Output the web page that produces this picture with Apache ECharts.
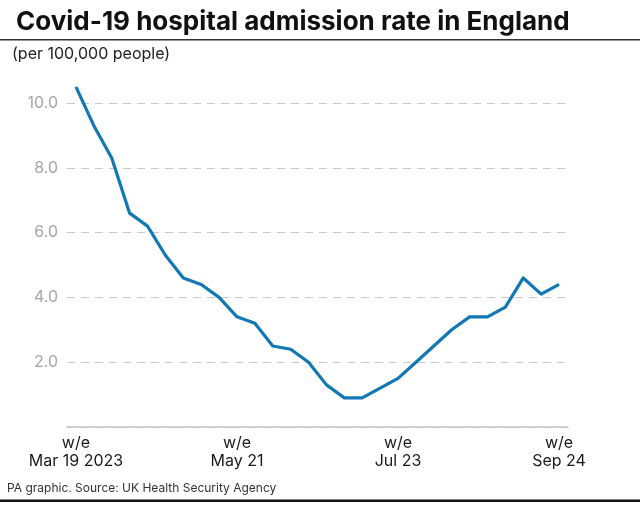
<!DOCTYPE html>
<html>
<head>
<meta charset="utf-8">
<script src="https://cdn.jsdelivr.net/npm/echarts@6/dist/echarts.min.js"></script>
<style>html,body{margin:0;padding:0;background:#fff;}#chart{width:640px;height:506px;}</style>
</head>
<body>
<div id="chart"></div>
<script>
const weeks = ["Mar 19 2023","Mar 26","Apr 2","Apr 9","Apr 16","Apr 23","Apr 30","May 7","May 14","May 21","May 28","Jun 4","Jun 11","Jun 18","Jun 25","Jul 2","Jul 9","Jul 16","Jul 23","Jul 30","Aug 6","Aug 13","Aug 20","Aug 27","Sep 3","Sep 10","Sep 17","Sep 24"];
const admissionRate = [10.5,9.3,8.3,6.6,6.2,5.3,4.6,4.4,4.0,3.4,3.2,2.5,2.4,2.0,1.3,0.9,0.9,1.2,1.5,2.0,2.5,3.0,3.4,3.4,3.7,4.6,4.1,4.4];
const labelledWeeks = ["Mar 19 2023","May 21","Jul 23","Sep 24"];
const yTicks = [2,4,6,8,10];

const FONT = 'Inter, Roboto, "Liberation Sans", sans-serif';
const chart = echarts.init(document.getElementById('chart'), null, {renderer:'canvas'});
chart.setOption({
  animation:false,
  backgroundColor:'#fff',
  title:{
    text:'Covid-19 hospital admission rate in England',
    left:11, top:4,
    textStyle:{fontFamily:FONT, fontSize:26, fontWeight:'bold', color:'#111'}
  },
  graphic:[
    {type:'rect', shape:{x:0,y:39,width:640,height:1.5}, style:{fill:'#333'}},
    {type:'text', left:12, top:46, style:{text:'(per 100,000 people)', font:'16px '+FONT, fill:'#222'}},
    {type:'text', left:7, top:482, style:{text:'PA graphic. Source: UK Health Security Agency', font:'12px '+FONT, fill:'#333'}},
    {type:'rect', shape:{x:0,y:499.5,width:640,height:2.5}, style:{fill:'#111'}}
  ],
  grid:{left:67, right:72, top:103, bottom:79, containLabel:false},
  xAxis:{
    type:'category', data:weeks, boundaryGap:true,
    axisLine:{show:true, lineStyle:{color:'#c4c4c4', width:1.5}},
    axisTick:{show:false},
    axisLabel:{
      interval:(i, v)=>labelledWeeks.includes(v),
      formatter:v=>'w/e\n'+v,
      fontFamily:FONT, fontSize:16, color:'#1a1a1a', lineHeight:18, margin:7
    },
    splitLine:{show:false}
  },
  yAxis:{
    type:'value', min:0, max:10, interval:2,
    axisLine:{show:false}, axisTick:{show:false},
    axisLabel:{formatter:v=>yTicks.includes(v)?v.toFixed(1):'', fontFamily:FONT, fontSize:16, color:'#a6a6a6', margin:9},
    splitLine:{show:true, lineStyle:{color:'#c8c8c8', width:1.2, type:[8,6]}}
  },
  series:[{
    type:'line', data:admissionRate, clip:false, symbol:'none',
    lineStyle:{color:'#1278b4', width:3.2, join:'round'}
  }]
});
</script>
</body>
</html>
